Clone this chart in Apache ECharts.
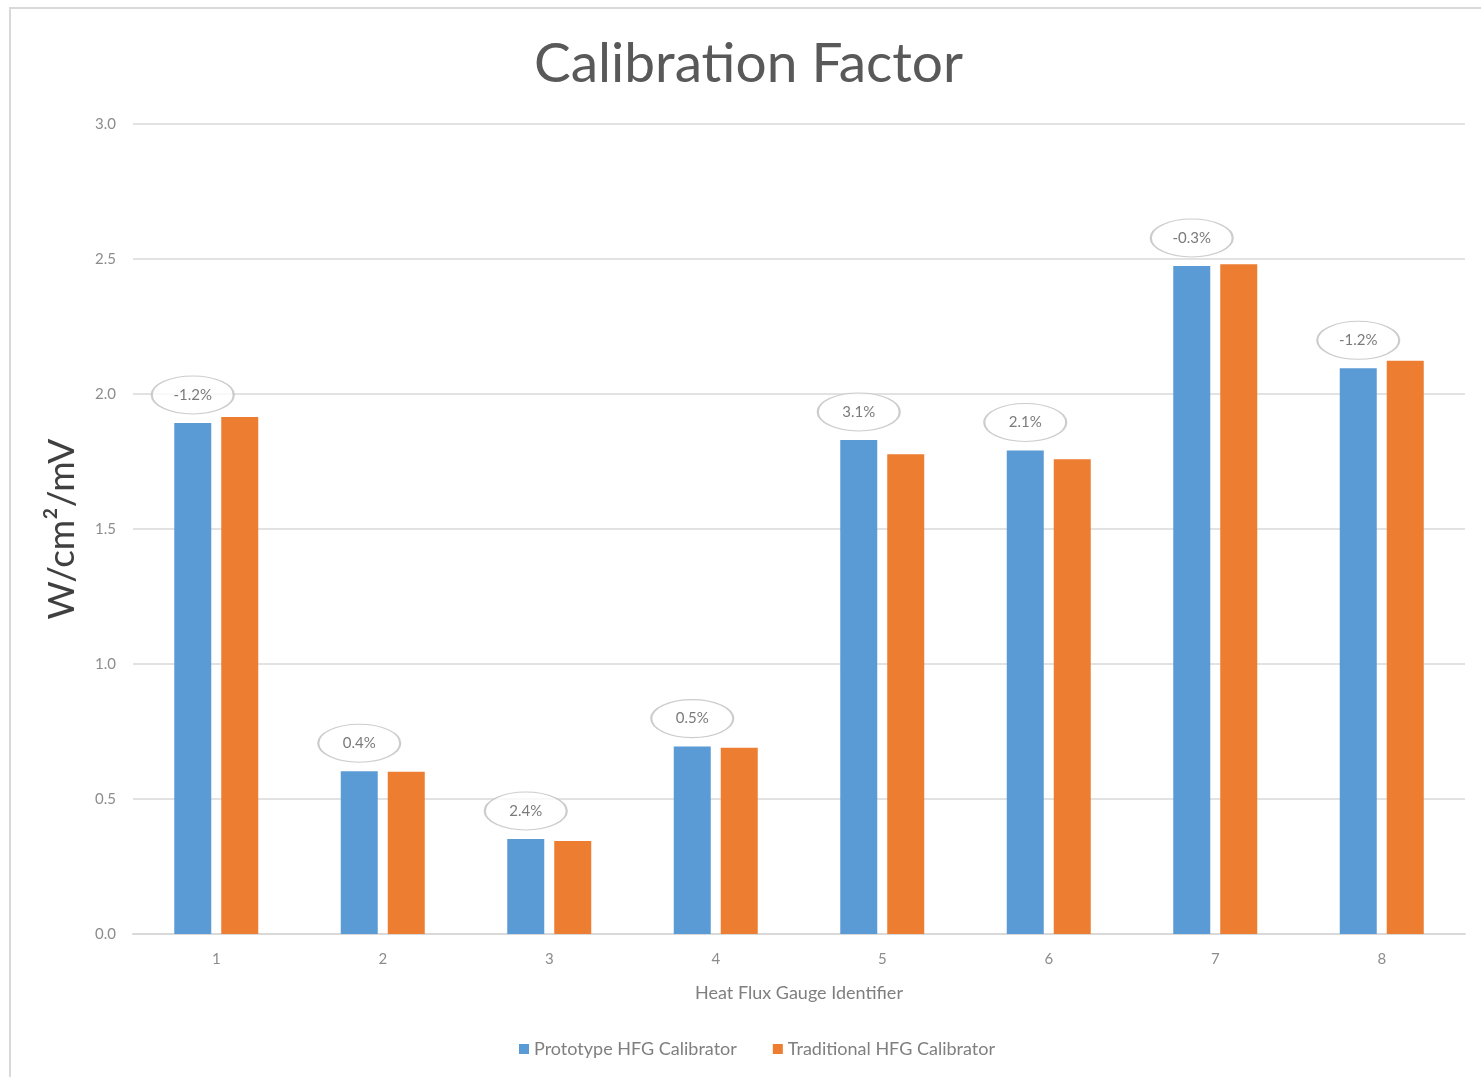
<!DOCTYPE html>
<html>
<head>
<meta charset="utf-8">
<script src="https://cdn.jsdelivr.net/npm/echarts@6/dist/echarts.min.js"></script>
<style>
  html, body { margin: 0; padding: 0; background: #fff; }
  #wrap { position: relative; width: 1481px; height: 1077px; overflow: hidden; }
  #frame { position: absolute; left: 9px; top: 7px; width: 1600px; height: 1200px;
           border-left: 2px solid #d9d9d9; border-top: 2px solid #d9d9d9; }
  #chart { position: absolute; left: 0; top: 0; width: 1481px; height: 1077px; }
</style>
</head>
<body>
<div id="wrap">
  <div id="frame"></div>
  <div id="chart"></div>
</div>
<script>
// 数据
var gauges = ['1', '2', '3', '4', '5', '6', '7', '8'];
var prototypeVals = [1.893, 0.603, 0.352, 0.694, 1.830, 1.791, 2.474, 2.095];
var traditionalVals = [1.915, 0.601, 0.344, 0.690, 1.777, 1.758, 2.481, 2.123];
var diffLabels = ['-1.2%', '0.4%', '2.4%', '0.5%', '3.1%', '2.1%', '-0.3%', '-1.2%'];

var font = 'Lato';
var chart = echarts.init(document.getElementById('chart'));

var option = {
    animation: false,
    title: {
        text: 'Calibration Factor',
        left: 529,
        top: 32,
        textStyle: { fontFamily: font, fontSize: 55, fontWeight: 'normal', color: '#595959' }
    },
    legend: {
        data: ['Prototype HFG Calibrator', 'Traditional HFG Calibrator'],
        bottom: 14,
        left: 514,
        icon: 'rect',
        itemWidth: 10,
        itemHeight: 10,
        itemGap: 36,
        textStyle: { fontFamily: font, fontSize: 18, color: '#7f7f7f' }
    },
    grid: { left: 133, right: 16, top: 124, bottom: 143 },
    xAxis: {
        type: 'category',
        data: gauges,
        name: 'Heat Flux Gauge Identifier',
        nameLocation: 'middle',
        nameGap: 50,
        nameTextStyle: { fontFamily: font, fontSize: 18, color: '#7f7f7f' },
        axisLine: { lineStyle: { color: '#d9d9d9', width: 2 } },
        axisTick: { show: false },
        axisLabel: { fontFamily: font, fontSize: 15, color: '#8c8c8c', margin: 18 }
    },
    yAxis: {
        type: 'value',
        min: 0,
        max: 3,
        interval: 0.5,
        name: 'W/cm\u00b2/mV',
        nameLocation: 'middle',
        nameGap: 52,
        nameTextStyle: { fontFamily: font, fontSize: 37, color: '#404040' },
        axisLine: { show: false },
        axisTick: { show: false },
        axisLabel: {
            fontFamily: font, fontSize: 15, color: '#8c8c8c', margin: 17,
            formatter: function (v) { return v.toFixed(1); }
        },
        splitLine: { lineStyle: { color: '#d9d9d9', width: 1.5 } }
    },
    series: [
        {
            name: 'Prototype HFG Calibrator',
            type: 'bar',
            data: prototypeVals,
            barWidth: 37,
            barGap: '27%',
            itemStyle: { color: '#5b9bd5' }
        },
        {
            name: 'Traditional HFG Calibrator',
            type: 'bar',
            data: traditionalVals,
            barWidth: 37,
            itemStyle: { color: '#ed7d31' }
        },
        {
            // 椭圆标注
            name: 'diff',
            type: 'scatter',
            data: prototypeVals,
            symbol: 'path://M0,20A40,20 0 1,1 80,20A40,20 0 1,1 0,20Z',
            symbolSize: [82, 38],
            symbolKeepAspect: false,
            symbolOffset: [-23.5, -28],
            z: 5,
            itemStyle: { color: '#fff', borderColor: '#bfbfbf', borderWidth: 1.5 },
            label: {
                show: true,
                position: 'inside',
                fontFamily: font,
                fontSize: 15,
                color: '#595959',
                formatter: function (p) { return diffLabels[p.dataIndex]; }
            },
            emphasis: { disabled: true }
        }
    ]
};

chart.setOption(option);
</script>
</body>
</html>
